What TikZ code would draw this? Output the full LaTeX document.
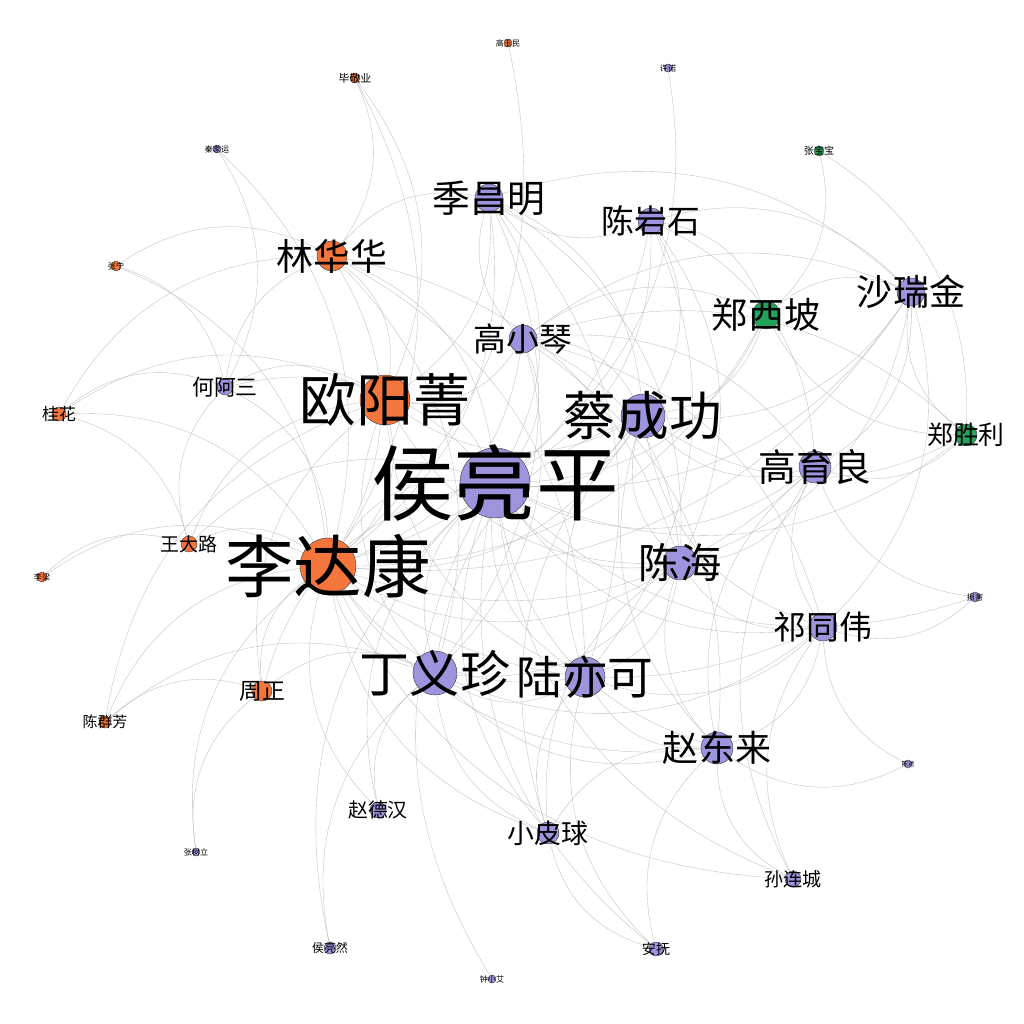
\documentclass[tikz,border=0pt]{standalone}
\usepackage{fontspec}
\setmainfont{Noto Sans CJK SC}
\usetikzlibrary{backgrounds}
\definecolor{dang}{RGB}{245,118,60}
\definecolor{zheng}{RGB}{156,149,222}
\definecolor{minjian}{RGB}{36,163,92}
\tikzset{
x=0.02cm, y=-0.02cm, % one unit is one pixel of the picture
every edge/.style={draw=gray!50, line width=0.2pt, bend right=30}, % thin curved links
person/.style={circle, draw=black!75, line width=0.25pt, inner sep=0pt, minimum size=#1*0.04cm}, % #1 is the radius
tag/.style={font=\fontsize{#1}{#1}\selectfont, inner sep=0pt, text=black}, % #1 is the font size in pt
}
\begin{document}
\begin{tikzpicture}
    \useasboundingbox (0,0) rectangle (1024,1024);
    % people
    \node[person=35, fill=zheng] (hlp) at (495,483) {};
    \node[person=28, fill=dang] (ldk) at (328,566) {};
    \node[person=25, fill=dang] (oyj) at (385,400) {};
    \node[person=22, fill=zheng] (ccg) at (643,416) {};
    \node[person=22, fill=zheng] (dyz) at (435,673) {};
    \node[person=20, fill=zheng] (lyk) at (585,677) {};
    \node[person=17, fill=zheng] (ch) at (680,563) {};
    \node[person=16, fill=zheng] (gyl) at (815,467) {};
    \node[person=16, fill=zheng] (zdl) at (717,748) {};
    \node[person=14, fill=zheng] (qtw) at (823,627) {};
    \node[person=14, fill=zheng] (srj) at (911,292) {};
    \node[person=14, fill=minjian] (zxp) at (766,315) {};
    \node[person=14, fill=zheng] (jcm) at (489,198) {};
    \node[person=13, fill=zheng] (cys) at (651,221) {};
    \node[person=15, fill=dang] (lhh) at (332,256) {};
    \node[person=14, fill=zheng] (gxq) at (523,339) {};
    \node[person=11, fill=minjian] (zsl) at (966,435) {};
    \node[person=8, fill=zheng] (has) at (225,387) {};
    \node[person=7, fill=dang] (gh) at (59,414) {};
    \node[person=8, fill=dang] (wdl) at (189,544) {};
    \node[person=10, fill=dang] (zz) at (262,691) {};
    \node[person=6, fill=dang] (cqf) at (105,722) {};
    \node[person=8, fill=zheng] (zdh) at (378,810) {};
    \node[person=11, fill=zheng] (xpq) at (548,833) {};
    \node[person=8, fill=zheng] (slc) at (793,879) {};
    \node[person=7, fill=zheng] (af) at (656,949) {};
    \node[person=6, fill=zheng] (hlr) at (330,948) {};
    \node[person=4, fill=zheng] (zxa) at (492,979) {};
    \node[person=4, fill=zheng] (zsli) at (196,852) {};
    \node[person=4, fill=zheng] (qjy) at (217,149) {};
    \node[person=5, fill=dang] (bjy) at (355,78) {};
    \node[person=4, fill=dang] (gym) at (508,43) {};
    \node[person=4, fill=zheng] (xn) at (668,68) {};
    \node[person=5, fill=minjian] (zbb) at (819,151) {};
    \node[person=5, fill=dang] (zn) at (116,266) {};
    \node[person=5, fill=dang] (ll) at (42,577) {};
    \node[person=5, fill=zheng] (sh) at (975,597) {};
    \node[person=4, fill=zheng] (cs) at (908,764) {};
    % names
    \node[tag=47] (hlp_t) at (hlp) {侯亮平};
    \node[tag=39] (ldk_t) at (ldk) {李达康};
    \node[tag=32.5] (oyj_t) at (oyj) {欧阳菁};
    \node[tag=30] (ccg_t) at (ccg) {蔡成功};
    \node[tag=28.5] (dyz_t) at (dyz) {丁义珍};
    \node[tag=26] (lyk_t) at (lyk) {陆亦可};
    \node[tag=23.5] (ch_t) at (ch) {陈海};
    \node[tag=21.5] (gyl_t) at (gyl) {高育良};
    \node[tag=20.5] (zdl_t) at (zdl) {赵东来};
    \node[tag=18.7] (qtw_t) at (qtw) {祁同伟};
    \node[tag=20.5] (srj_t) at (srj) {沙瑞金};
    \node[tag=20.5] (zxp_t) at (zxp) {郑西坡};
    \node[tag=21.5] (jcm_t) at (jcm) {季昌明};
    \node[tag=18.7] (cys_t) at (cys) {陈岩石};
    \node[tag=21] (lhh_t) at (lhh) {林华华};
    \node[tag=18.7] (gxq_t) at (gxq) {高小琴};
    \node[tag=14.7] (zsl_t) at (zsl) {郑胜利};
    \node[tag=12.5] (has_t) at (has) {何阿三};
    \node[tag=9.6] (gh_t) at (gh) {桂花};
    \node[tag=10.8] (wdl_t) at (wdl) {王大路};
    \node[tag=13] (zz_t) at (zz) {周正};
    \node[tag=8.5] (cqf_t) at (cqf) {陈群芳};
    \node[tag=11.3] (zdh_t) at (zdh) {赵德汉};
    \node[tag=15.3] (xpq_t) at (xpq) {小皮球};
    \node[tag=10.8] (slc_t) at (slc) {孙连城};
    \node[tag=8] (af_t) at (af) {安抚};
    \node[tag=6.8] (hlr_t) at (hlr) {侯亮然};
    \node[tag=4.6] (zxa_t) at (zxa) {钟小艾};
    \node[tag=4.6] (zsli_t) at (zsli) {张树立};
    \node[tag=4.6] (qjy_t) at (qjy) {秦家运};
    \node[tag=6.2] (bjy_t) at (bjy) {毕敬业};
    \node[tag=4.6] (gym_t) at (gym) {高玉民};
    \node[tag=4.6] (xn_t) at (xn) {许诺};
    \node[tag=5.7] (zbb_t) at (zbb) {张宝宝};
    \node[tag=4.6] (zn_t) at (zn) {张宁};
    \node[tag=4.6] (ll_t) at (ll) {李梁};
    \node[tag=4.6] (sh_t) at (sh) {损害};
    \node[tag=3.6] (cs_t) at (cs) {陈述};
    % links
    \begin{pgfonlayer}{background}
    \fill[white] (0,0) rectangle (1024,1024);
    \draw
        (hlp) edge (ldk) (hlp) edge (oyj) (hlp) edge (ccg) (hlp) edge (dyz)
        (hlp) edge (lyk) (hlp) edge (ch) (hlp) edge (gyl) (hlp) edge (zdl)
        (hlp) edge (qtw) (hlp) edge (srj) (hlp) edge (zxp) (hlp) edge (jcm)
        (hlp) edge (cys) (hlp) edge (lhh) (hlp) edge (gxq) (hlp) edge (zsl)
        (hlp) edge (has) (hlp) edge (zz) (hlp) edge (zdh) (hlp) edge (xpq)
        (hlp) edge (slc) (hlp) edge (af) (hlp) edge (hlr) (hlp) edge (zxa)
        (hlp) edge (xn) (hlp) edge (wdl) (hlp) edge (sh)
        (ldk) edge (oyj) (ldk) edge (ccg) (ldk) edge (dyz) (ldk) edge (lyk)
        (ldk) edge (ch) (ldk) edge (gyl) (ldk) edge (zdl) (ldk) edge (qtw)
        (ldk) edge (srj) (ldk) edge (zxp) (ldk) edge (jcm) (ldk) edge (cys)
        (ldk) edge (lhh) (ldk) edge (gxq) (ldk) edge (has) (ldk) edge (gh)
        (ldk) edge (wdl) (ldk) edge (zz) (ldk) edge (cqf) (ldk) edge (zdh)
        (ldk) edge (xpq) (ldk) edge (slc) (ldk) edge (zsli) (ldk) edge (ll)
        (ldk) edge (bjy) (ldk) edge (gym) (ldk) edge (qjy) (ldk) edge (zn)
        (oyj) edge (ccg) (oyj) edge (dyz) (oyj) edge (lyk) (oyj) edge (ch)
        (oyj) edge (lhh) (oyj) edge (jcm) (oyj) edge (gxq) (oyj) edge (has)
        (oyj) edge (wdl) (oyj) edge (zz) (oyj) edge (gh) (oyj) edge (bjy)
        (oyj) edge (cqf)
        (ccg) edge (dyz) (ccg) edge (lyk) (ccg) edge (ch) (ccg) edge (gyl)
        (ccg) edge (zdl) (ccg) edge (qtw) (ccg) edge (srj) (ccg) edge (zxp)
        (ccg) edge (jcm) (ccg) edge (cys) (ccg) edge (gxq) (ccg) edge (zsl)
        (ccg) edge (xpq)
        (dyz) edge (lyk) (dyz) edge (ch) (dyz) edge (zdl) (dyz) edge (qtw)
        (dyz) edge (jcm) (dyz) edge (lhh) (dyz) edge (zz) (dyz) edge (cqf)
        (dyz) edge (zdh) (dyz) edge (xpq) (dyz) edge (hlr) (dyz) edge (gxq)
        (lyk) edge (ch) (lyk) edge (zdl) (lyk) edge (qtw) (lyk) edge (jcm)
        (lyk) edge (lhh) (lyk) edge (xpq) (lyk) edge (af) (lyk) edge (cys)
        (ch) edge (gyl) (ch) edge (zdl) (ch) edge (qtw) (ch) edge (srj)
        (ch) edge (jcm) (ch) edge (cys) (ch) edge (lhh) (ch) edge (xpq)
        (ch) edge (gxq)
        (gyl) edge (qtw) (gyl) edge (srj) (gyl) edge (zdl) (gyl) edge (gxq)
        (gyl) edge (sh) (gyl) edge (zsl) (gyl) edge (cys) (gyl) edge (slc)
        (zdl) edge (qtw) (zdl) edge (slc) (zdl) edge (af) (zdl) edge (xpq)
        (zdl) edge (gxq) (zdl) edge (cs)
        (qtw) edge (srj) (qtw) edge (gxq) (qtw) edge (slc) (qtw) edge (cs)
        (qtw) edge (sh)
        (srj) edge (zxp) (srj) edge (cys) (srj) edge (jcm) (srj) edge (zsl)
        (srj) edge (gxq)
        (zxp) edge (zsl) (zxp) edge (cys) (zxp) edge (zbb) (zxp) edge (gxq)
        (zsl) edge (zbb) (zsl) edge (gxq)
        (jcm) edge (cys) (jcm) edge (lhh) (jcm) edge (gxq)
        (lhh) edge (has) (lhh) edge (gh) (lhh) edge (zn) (lhh) edge (bjy)
        (has) edge (gh) (has) edge (wdl) (has) edge (zn) (has) edge (qjy)
        (wdl) edge (gh) (wdl) edge (ll)
        (zz) edge (cqf) (zz) edge (zsli)
        (xpq) edge (af)
        ;
    \end{pgfonlayer}
\end{tikzpicture}
\end{document}
